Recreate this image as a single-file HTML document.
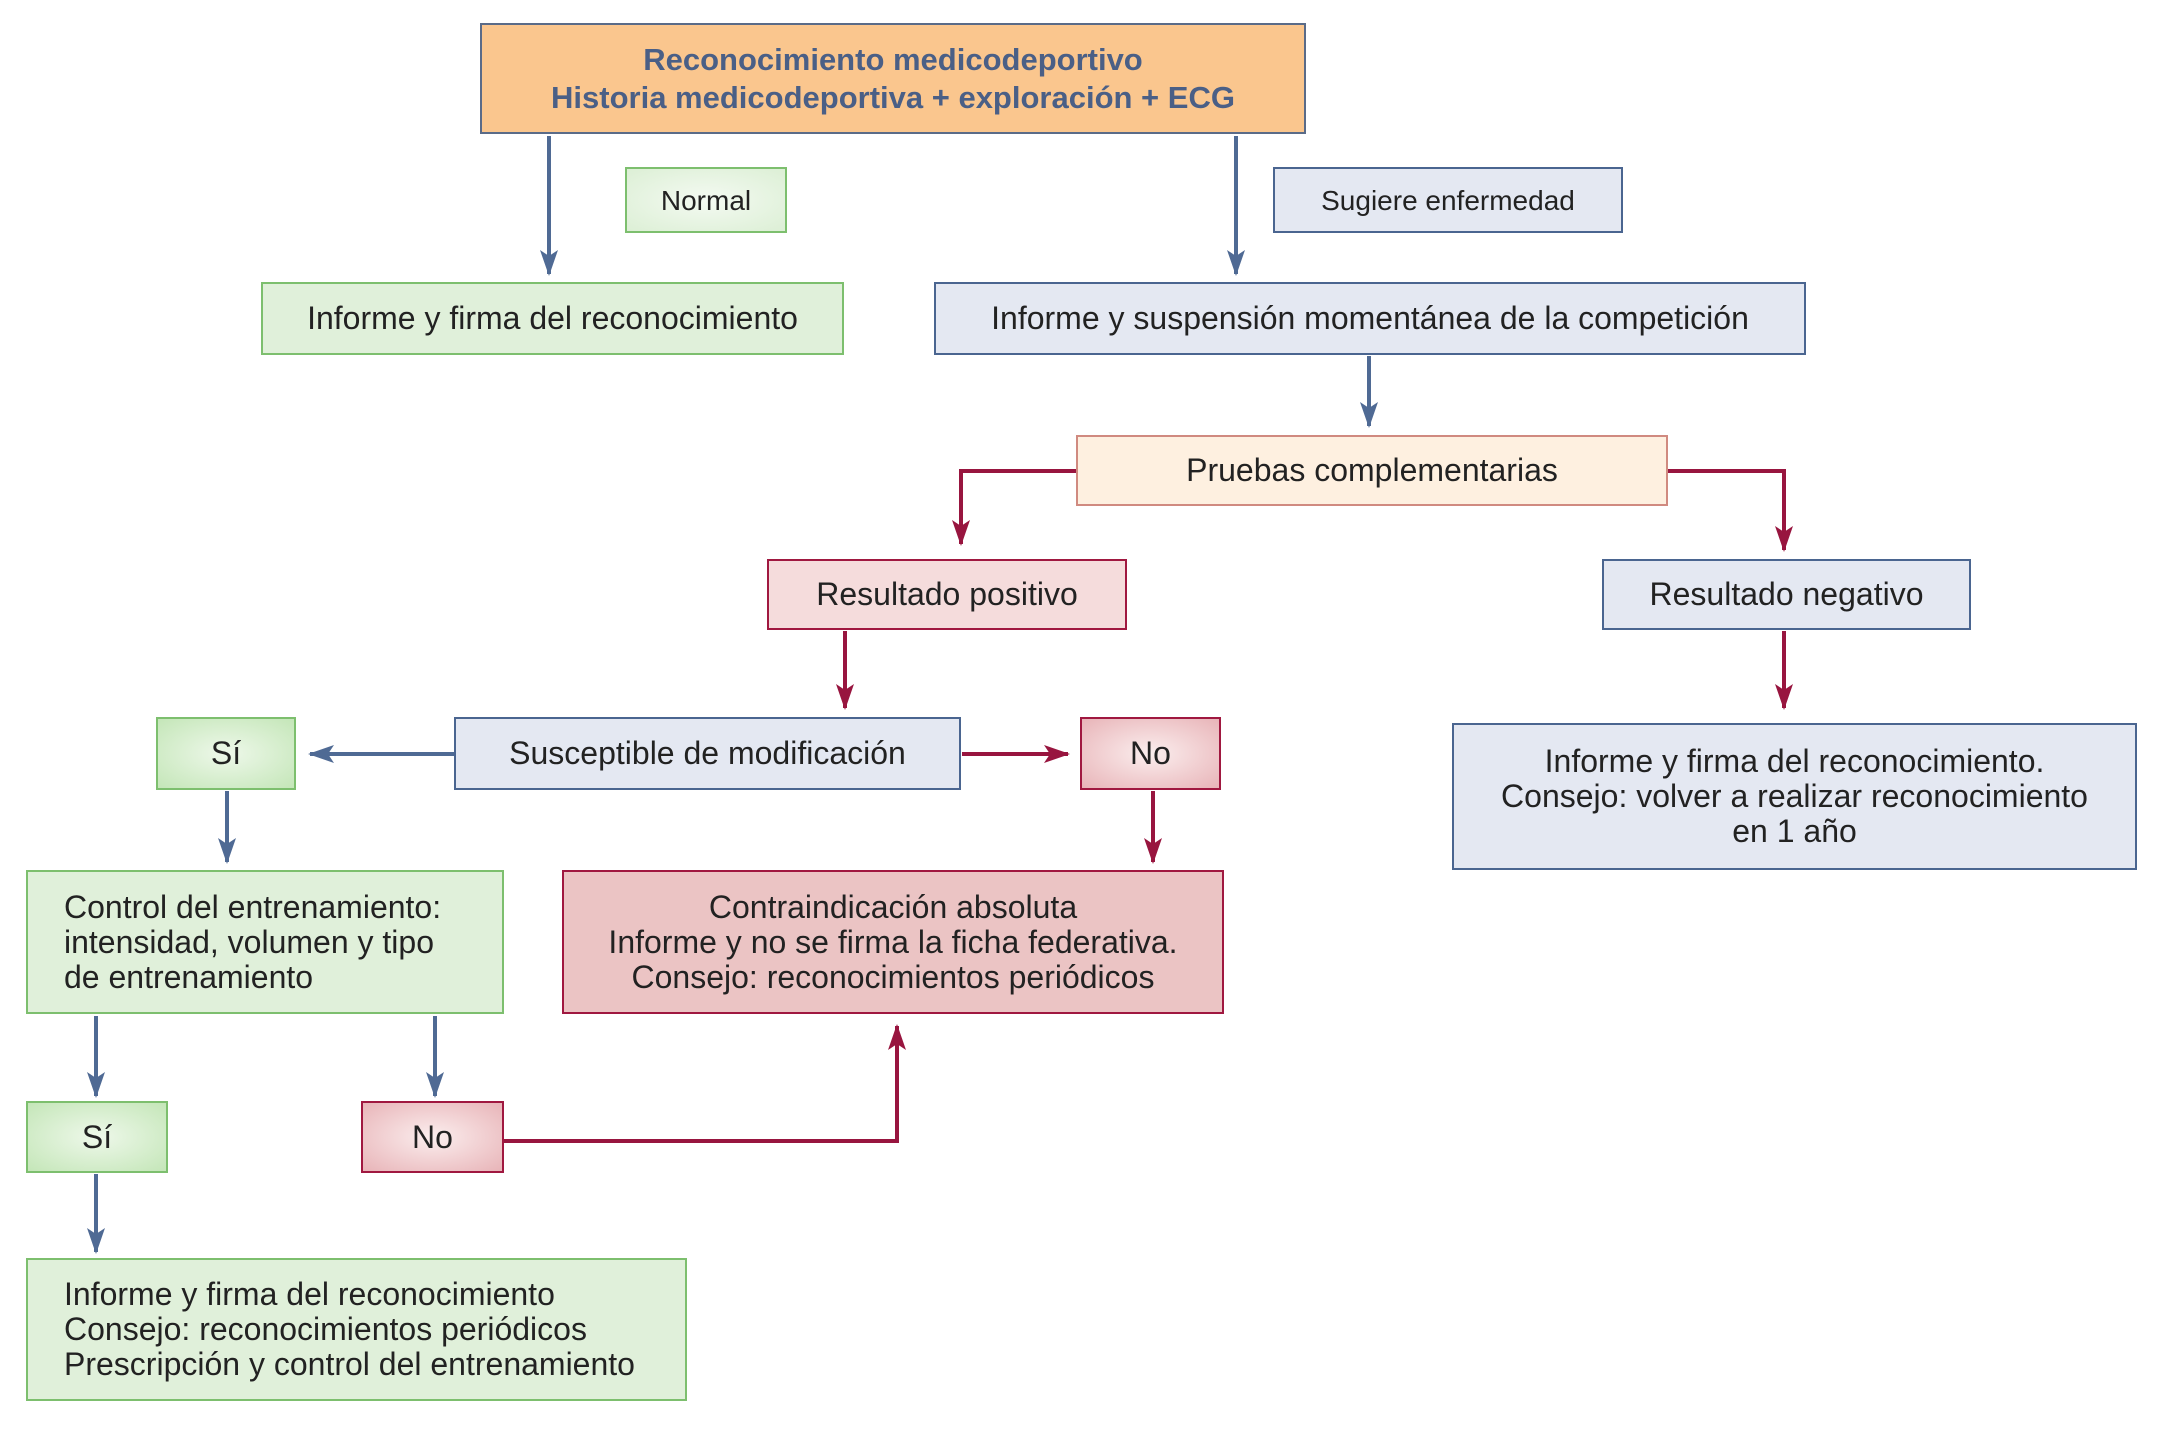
<!DOCTYPE html>
<html><head><meta charset="utf-8"><style>
body{margin:0;width:2158px;height:1437px;background:#fff;position:relative;overflow:hidden;font-family:"Liberation Sans Narrow","Liberation Sans",sans-serif;}
.b{position:absolute;box-sizing:border-box;border:2px solid;display:flex;align-items:center;justify-content:center;text-align:center;font-size:32px;color:#222;line-height:35px;}
.g{background:#e0f0da;border-color:#7dbf6e;}
.gr{background:radial-gradient(ellipse at center,#eef8ea 0%,#c4e6b8 100%);border-color:#7dbf6e;}
.bl{background:#e4e8f2;border-color:#4a6590;}
.r{background:#ebc4c4;border-color:#a01840;}
.rr{background:radial-gradient(ellipse at center,#fbeeee 0%,#e8b4b8 100%);border-color:#a01840;}
.l{justify-content:flex-start;text-align:left;padding-left:36px;}
svg{position:absolute;left:0;top:0;}
</style></head><body>
<svg width="2158" height="1437">
<defs>
<marker id="ab" markerWidth="26" markerHeight="18" refX="24" refY="9" orient="auto" markerUnits="userSpaceOnUse"><path d="M0,0 L26,9 L0,18 L6,9z" fill="#4f6a94"/></marker>
<marker id="ar" markerWidth="26" markerHeight="18" refX="24" refY="9" orient="auto" markerUnits="userSpaceOnUse"><path d="M0,0 L26,9 L0,18 L6,9z" fill="#98153f"/></marker>
</defs>
<g stroke="#4f6a94" stroke-width="4" fill="none">
<path d="M549,136 V274" marker-end="url(#ab)"/>
<path d="M1236,136 V274" marker-end="url(#ab)"/>
<path d="M1369,356 V426" marker-end="url(#ab)"/>
<path d="M454,754 H310" marker-end="url(#ab)"/>
<path d="M227,791 V862" marker-end="url(#ab)"/>
<path d="M96,1016 V1096" marker-end="url(#ab)"/>
<path d="M435,1016 V1096" marker-end="url(#ab)"/>
<path d="M96,1174 V1252" marker-end="url(#ab)"/>
</g>
<g stroke="#98153f" stroke-width="4" fill="none">
<path d="M1076,471 H961 V544" marker-end="url(#ar)"/>
<path d="M1668,471 H1784 V550" marker-end="url(#ar)"/>
<path d="M845,631 V708" marker-end="url(#ar)"/>
<path d="M1784,631 V708" marker-end="url(#ar)"/>
<path d="M962,754 H1068" marker-end="url(#ar)"/>
<path d="M1153,791 V862" marker-end="url(#ar)"/>
<path d="M504,1141 H897 V1026" marker-end="url(#ar)"/>
</g>
</svg>
<div class="b" style="left:480px;top:23px;width:826px;height:111px;background:#fac68e;border-color:#5a6b88;color:#4a5f86;font-weight:bold;font-size:31px;line-height:38px;">Reconocimiento medicodeportivo<br>Historia medicodeportiva + exploración + ECG</div>
<div class="b g" style="left:625px;top:167px;width:162px;height:66px;font-size:28px;background:radial-gradient(ellipse at center,#f4faf2 0%,#dcefd5 100%)">Normal</div>
<div class="b bl" style="left:1273px;top:167px;width:350px;height:66px;font-size:28px;">Sugiere enfermedad</div>
<div class="b g" style="left:261px;top:282px;width:583px;height:73px;">Informe y firma del reconocimiento</div>
<div class="b bl" style="left:934px;top:282px;width:872px;height:73px;">Informe y suspensión momentánea de la competición</div>
<div class="b" style="left:1076px;top:435px;width:592px;height:71px;background:#fef0e0;border-color:#d08a80;">Pruebas complementarias</div>
<div class="b" style="left:767px;top:559px;width:360px;height:71px;background:#f5dcdc;border-color:#a01840;">Resultado positivo</div>
<div class="b bl" style="left:1602px;top:559px;width:369px;height:71px;">Resultado negativo</div>
<div class="b bl" style="left:454px;top:717px;width:507px;height:73px;">Susceptible de modificación</div>
<div class="b gr" style="left:156px;top:717px;width:140px;height:73px;">Sí</div>
<div class="b rr" style="left:1080px;top:717px;width:141px;height:73px;">No</div>
<div class="b bl" style="left:1452px;top:723px;width:685px;height:147px;">Informe y firma del reconocimiento.<br>Consejo: volver a realizar reconocimiento<br>en 1 año</div>
<div class="b g l" style="left:26px;top:870px;width:478px;height:144px;padding-left:36px;">Control del entrenamiento:<br>intensidad, volumen y tipo<br>de entrenamiento</div>
<div class="b r" style="left:562px;top:870px;width:662px;height:144px;">Contraindicación absoluta<br>Informe y no se firma la ficha federativa.<br>Consejo: reconocimientos periódicos</div>
<div class="b gr" style="left:26px;top:1101px;width:142px;height:72px;">Sí</div>
<div class="b rr" style="left:361px;top:1101px;width:143px;height:72px;">No</div>
<div class="b g l" style="left:26px;top:1258px;width:661px;height:143px;">Informe y firma del reconocimiento<br>Consejo: reconocimientos periódicos<br>Prescripción y control del entrenamiento</div>
</body></html>
